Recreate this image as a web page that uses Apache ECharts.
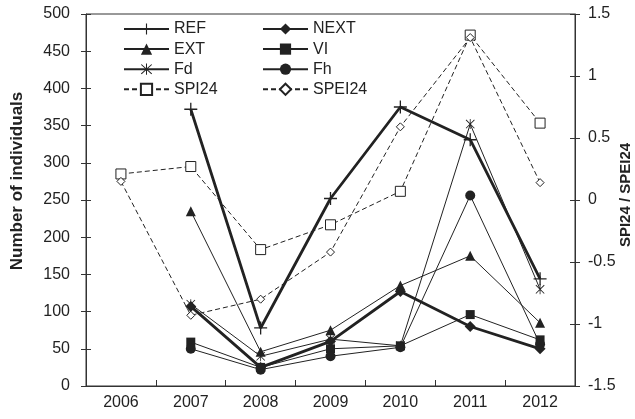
<!DOCTYPE html>
<html>
<head>
<meta charset="utf-8">
<script src="https://cdn.jsdelivr.net/npm/echarts@6/dist/echarts.min.js"></script>
<style>html,body{margin:0;padding:0;background:#fff}#c{width:635px;height:419px}</style>
</head>
<body>
<div id="c"></div>
<script>
var years = ['2006', '2007', '2008', '2009', '2010', '2011', '2012'];
var REF = [null, 372, 78, 252, 375, 331, 144];
var NEXT = [null, 107, 25, 60, 127, 80, 50];
var EXT = [null, 235, 46, 75, 135, 175, 85];
var VI = [null, 59, 25, 50, 54, 96, 62];
var Fd = [null, 110, 40, 63, 54, 352, 130];
var Fh = [null, 50, 22, 40, 52, 256, 56];
var SPI24 = [0.21, 0.27, -0.40, -0.20, 0.07, 1.33, 0.62];
var SPEI24 = [0.15, -0.93, -0.80, -0.42, 0.59, 1.31, 0.14];
var leftTicks = {min: 0, max: 500, interval: 50};
var rightTicks = {min: -1.5, max: 1.5, interval: 0.5};
var leftTitle = 'Number of individuals';
var rightTitle = 'SPI24 / SPEI24';

var FONT = '"Liberation Sans", Arial, sans-serif';
var INK = '#222';
var plusPath = 'path://M9,0h2v20h-2z M0,9h20v2h-20z';
var starPath = 'path://M9.2,0h1.6v20h-1.6z M1,2.2L2.2,1L19,17.8L17.8,19z M17.8,1L19,2.2L2.2,19L1,17.8z';

function mk(name, data, opts) {
  return Object.assign({
    name: name,
    type: 'line',
    data: data,
    yAxisIndex: 0,
    connectNulls: false,
    symbolKeepAspect: true,
    lineStyle: {color: INK, width: 1},
    itemStyle: {color: INK, borderWidth: 0},
    emphasis: {disabled: true}
  }, opts);
}

var series = [
  mk('SPI24', SPI24, {yAxisIndex: 1, symbol: 'rect', symbolSize: 10,
    lineStyle: {color: INK, width: 1, type: [5, 3]},
    itemStyle: {color: '#fff', borderColor: INK, borderWidth: 1}}),
  mk('SPEI24', SPEI24, {yAxisIndex: 1, symbol: 'diamond', symbolSize: 8,
    lineStyle: {color: INK, width: 1, type: [5, 3]},
    itemStyle: {color: '#fff', borderColor: INK, borderWidth: 1}}),
  mk('EXT', EXT, {symbol: 'triangle', symbolSize: 10}),
  mk('VI', VI, {symbol: 'rect', symbolSize: 9}),
  mk('Fd', Fd, {symbol: starPath, symbolSize: 10}),
  mk('Fh', Fh, {symbol: 'circle', symbolSize: 10}),
  mk('REF', REF, {symbol: plusPath, symbolSize: 13, lineStyle: {color: INK, width: 2.8}}),
  mk('NEXT', NEXT, {symbol: 'diamond', symbolSize: 11, lineStyle: {color: INK, width: 2.8}})
];

var axisLineStyle = {show: true, lineStyle: {color: '#333', width: 1}};
var labelStyle = {color: INK, fontFamily: FONT, fontSize: 16};
var legendBase = {orient: 'vertical', top: 21, padding: 0, itemWidth: 45, itemHeight: 14, itemGap: 4.1,
  textStyle: {color: INK, fontFamily: FONT, fontSize: 16}, selectedMode: false};

var option = {
  animation: false,
  backgroundColor: '#fff',
  grid: {left: 86, right: 60, top: 14, bottom: 33, show: true, borderColor: '#333', borderWidth: 1},
  legend: [
    Object.assign({left: 123, data: ['REF', 'EXT', 'Fd', 'SPI24']}, legendBase),
    Object.assign({left: 262, data: ['NEXT', 'VI', 'Fh', 'SPEI24']}, legendBase)
  ],
  graphic: [
    {type: 'text', x: 17, y: 181, rotation: Math.PI / 2,
     style: {text: leftTitle, fill: INK, font: 'bold 17px ' + FONT, textAlign: 'center', textVerticalAlign: 'middle'}},
    {type: 'text', x: 626, y: 195, rotation: Math.PI / 2,
     style: {text: rightTitle, fill: INK, font: 'bold 15px ' + FONT, textAlign: 'center', textVerticalAlign: 'middle'}}
  ],
  xAxis: {
    type: 'category', data: years, boundaryGap: true,
    axisLine: axisLineStyle,
    axisTick: {show: true, inside: true, length: 6, lineStyle: {color: '#333'}},
    axisLabel: Object.assign({margin: 9}, labelStyle),
    splitLine: {show: false}
  },
  yAxis: [
    {type: 'value', position: 'left', min: leftTicks.min, max: leftTicks.max, interval: leftTicks.interval,
     axisLine: axisLineStyle,
     axisTick: {show: true, length: 5, lineStyle: {color: '#333'}},
     axisLabel: Object.assign({margin: 16}, labelStyle), splitLine: {show: false}},
    {type: 'value', position: 'right', min: rightTicks.min, max: rightTicks.max, interval: rightTicks.interval,
     axisLine: axisLineStyle,
     axisTick: {show: true, length: 5, lineStyle: {color: '#333'}},
     axisLabel: Object.assign({margin: 13}, labelStyle), splitLine: {show: false}},
    {type: 'value', position: 'left', min: leftTicks.min, max: leftTicks.max, interval: leftTicks.interval,
     axisLine: {show: false}, axisTick: {show: true, inside: true, length: 5, lineStyle: {color: '#333'}},
     axisLabel: {show: false}, splitLine: {show: false}},
    {type: 'value', position: 'right', min: rightTicks.min, max: rightTicks.max, interval: rightTicks.interval,
     axisLine: {show: false}, axisTick: {show: true, inside: true, length: 5, lineStyle: {color: '#333'}},
     axisLabel: {show: false}, splitLine: {show: false}}
  ],
  series: series
};
var chart = echarts.init(document.getElementById('c'), null, {renderer: 'canvas'});
chart.setOption(option);
</script>
</body>
</html>
